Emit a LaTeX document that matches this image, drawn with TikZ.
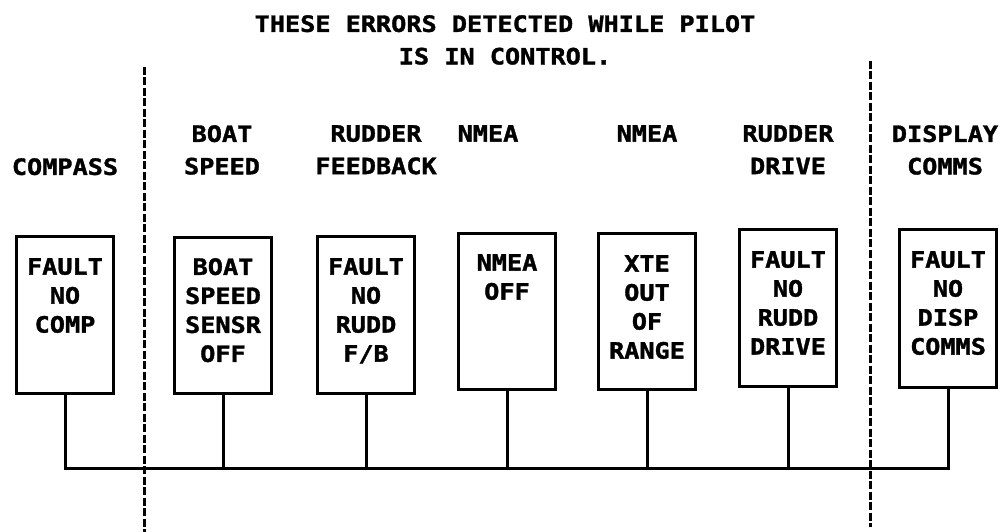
\documentclass[tikz,border=0pt]{standalone}
\usepackage{fontspec}
\newfontfamily\pix[FakeStretch=1.12,FakeBold=1.5]{DejaVu Sans Mono Bold}
\begin{document}
\begin{tikzpicture}[x=1pt,y=-1pt,
  box/.style={draw, line width=3pt, minimum width=97pt, inner sep=0pt, anchor=north},
  boxtxt/.style={font=\pix\fontsize{22.5}{29}\selectfont, align=center, inner sep=0pt, anchor=north},
  head/.style={font=\pix\fontsize{22.5}{32.5}\selectfont, align=center, inner sep=0pt, anchor=north},
  wire/.style={line width=3pt},
  divider/.style={line width=3pt, dash pattern=on 8pt off 2.5pt}]
\useasboundingbox (0,0) rectangle (1005,532);

% title
\node[head] (title) at (505,15) {THESE ERRORS DETECTED WHILE PILOT\\IS IN CONTROL.};

% dividers
\coordinate (d1t) at (144,67);
\coordinate (d1b) at (144,532);
\coordinate (d2t) at (870,61);
\coordinate (d2b) at (870,527);
\draw[divider] (d1t) -- (d1b);
\draw[divider] (d2t) -- (d2b);

% headings
\node[head] (h1) at (65,158) {COMPASS};
\node[head] (h2) at (222,125) {BOAT\\SPEED};
\node[head] (h3) at (376,125) {RUDDER\\FEEDBACK};
\node[head] (h4) at (488,125) {NMEA};
\node[head] (h5) at (647,125) {NMEA};
\node[head] (h6) at (788,125) {RUDDER\\DRIVE};
\node[head] (h7) at (945,125) {DISPLAY\\COMMS};

% boxes
\node[box, minimum height=157pt] (b1) at (65,235) {};
\node[box, minimum height=156pt] (b2) at (223,236) {};
\node[box, minimum height=157pt] (b3) at (366,235) {};
\node[box, minimum height=156pt] (b4) at (507,232) {};
\node[box, minimum height=156pt] (b5) at (647,232) {};
\node[box, minimum height=157pt] (b6) at (788,228) {};
\node[box, minimum height=158pt] (b7) at (948,228) {};

% box texts
\node[boxtxt] (t1) at (65,258) {FAULT\\NO\\COMP};
\node[boxtxt] (t2) at (223,258) {BOAT\\SPEED\\SENSR\\OFF};
\node[boxtxt] (t3) at (366,258) {FAULT\\NO\\RUDD\\F/B};
\node[boxtxt] (t4) at (507,254) {NMEA\\OFF};
\node[boxtxt] (t5) at (647,255) {XTE\\OUT\\OF\\RANGE};
\node[boxtxt] (t6) at (788,251) {FAULT\\NO\\RUDD\\DRIVE};
\node[boxtxt] (t7) at (948,251) {FAULT\\NO\\DISP\\COMMS};

% bus
\coordinate (bus) at (0,468);
\draw[wire] (b1.south) |- (b7.south |- bus) -- (b7.south);
\foreach \b in {b2,b3,b4,b5,b6}
  \draw[wire] (\b.south) -- (\b.south |- bus);
\end{tikzpicture}
\end{document}
